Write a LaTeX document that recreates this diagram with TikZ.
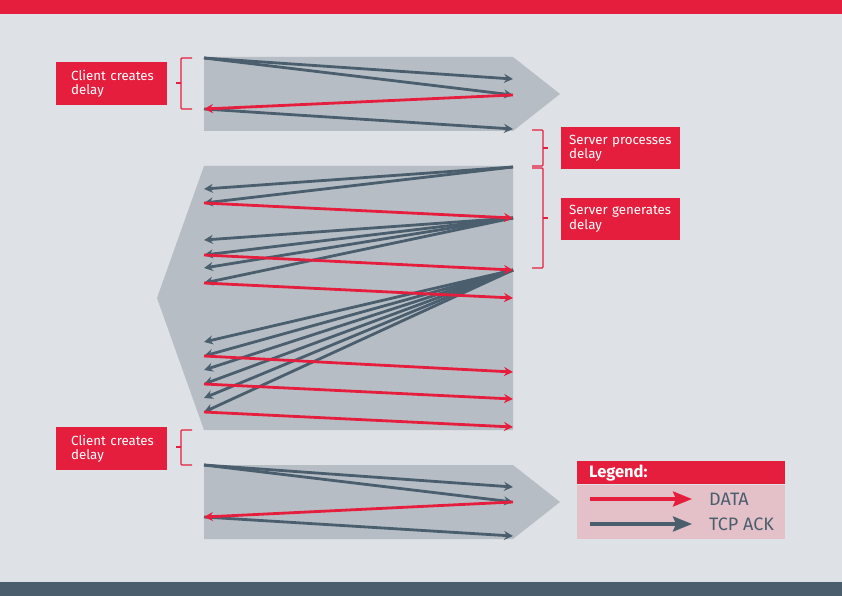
\documentclass[tikz,border=0pt]{standalone}
\usepackage{fontspec}
\setmainfont{Fira Sans}
\usetikzlibrary{arrows.meta, positioning}
\definecolor{pagegray}{RGB}{222,225,229}
\definecolor{zonegray}{RGB}{182,189,196}
\definecolor{slate}{RGB}{74,94,110}
\definecolor{alertred}{RGB}{230,30,62}
\definecolor{lightpink}{RGB}{228,193,200}
\tikzset{every node/.append style={align=left}}
\tikzset{
  tag/.style={rectangle, fill=alertred, text=white, inner xsep=15pt, inner ysep=0pt,
    text width=81pt, minimum height=43pt, font=\fontsize{13.3}{14.5}\selectfont, anchor=north west},
  stag/.style={tag, inner xsep=8pt, text width=103pt, minimum height=42pt},
  zone/.style={fill=zonegray},
  brk/.style={draw=alertred, line width=1.3pt, rounded corners=1pt},
  ackarrow/.style={-{Stealth[length=9pt, width=9pt, inset=3pt]}, line width=2.8pt, slate},
  dataarrow/.style={ackarrow, alertred},
  lghead/.style={rectangle, fill=alertred, text=white, inner xsep=12pt, inner ysep=0pt,
    text width=184pt, minimum height=23pt, font=\fontsize{16.5}{18}\selectfont\bfseries, anchor=north west},
  lgbody/.style={rectangle, fill=lightpink, minimum width=208pt, minimum height=54pt, inner sep=0pt},
  keyarrow/.style={-{Stealth[length=19pt, width=15pt, inset=3pt]}, line width=3.2pt},
  keylbl/.style={font=\fontsize{18}{20}\selectfont, text=slate, inner sep=0pt}
}
\begin{document}
\begin{tikzpicture}[x=1pt, y=-1pt]
  \fill[pagegray] (0,0) rectangle (842,596);
  \fill[alertred] (0,0) rectangle (842,14);
  \fill[slate] (0,582) rectangle (842,596);

  \fill[zone] (204,57) -- (513,57) -- (560,94) -- (513,131) -- (204,131) -- cycle;
  \fill[zone] (204,166) -- (513,166) -- (513,430) -- (204,430) -- (157,298) -- cycle;
  \fill[zone] (204,465) -- (513,465) -- (560,502) -- (513,539) -- (204,539) -- cycle;

  \node[tag] (cl1) at (56,62) {\mbox{Client creates}\\delay};
  \node[tag] (cl2) at (56,427) {\mbox{Client creates}\\delay};
  \node[stag] (sp) at (561,127) {\mbox{Server processes}\\delay};
  \node[stag, below=28pt of sp] (sg) {\mbox{Server generates}\\delay};

  \draw[brk] (192,58) -- (181,58) -- (181,109) -- (192,109);
  \draw[brk] (181,83) -- (176,83);
  \draw[brk] (192,430) -- (181,430) -- (181,465) -- (192,465);
  \draw[brk] (181,447) -- (176,447);
  \draw[brk] (532,130) -- (543,130) -- (543,166) -- (532,166);
  \draw[brk] (543,148) -- (548,148);
  \draw[brk] (532,168) -- (543,168) -- (543,268) -- (532,268);
  \draw[brk] (543,218) -- (548,218);

  \coordinate (a0) at (204,58);
  \coordinate (a1) at (513,79);
  \coordinate (a2) at (513,95);
  \coordinate (a3) at (204,109);
  \coordinate (a4) at (513,129);
  \draw[ackarrow] (a0) -- (a1);
  \draw[ackarrow] (a0) -- (a2);
  \draw[ackarrow] (a3) -- (a4);
  \draw[dataarrow] (a2) -- (a3);

  \coordinate (s1) at (513,167);
  \coordinate (s2) at (513,218);
  \coordinate (s3) at (513,270);
  \coordinate (s4) at (513,298);
  \coordinate (s5) at (513,372);
  \coordinate (s6) at (513,399);
  \coordinate (s7) at (513,427);
  \coordinate (m1) at (204,189);
  \coordinate (m2) at (204,203);
  \coordinate (m3) at (204,240);
  \coordinate (m4) at (204,255);
  \coordinate (m5) at (204,268);
  \coordinate (m6) at (204,283);
  \coordinate (n1) at (204,342);
  \coordinate (n2) at (204,356);
  \coordinate (n3) at (204,370);
  \coordinate (n4) at (204,384);
  \coordinate (n5) at (204,398);
  \coordinate (n6) at (204,412);
  \draw[ackarrow] (s1) -- (m1);
  \draw[ackarrow] (s1) -- (m2);
  \draw[ackarrow] (s2) -- (m3);
  \draw[ackarrow] (s2) -- (m4);
  \draw[ackarrow] (s2) -- (m5);
  \draw[ackarrow] (s2) -- (m6);
  \draw[ackarrow] (s3) -- (n1);
  \draw[ackarrow] (s3) -- (n2);
  \draw[ackarrow] (s3) -- (n3);
  \draw[ackarrow] (s3) -- (n4);
  \draw[ackarrow] (s3) -- (n5);
  \draw[ackarrow] (s3) -- (n6);
  \draw[dataarrow] (m2) -- (s2);
  \draw[dataarrow] (m4) -- (s3);
  \draw[dataarrow] (m6) -- (s4);
  \draw[dataarrow] (n2) -- (s5);
  \draw[dataarrow] (n4) -- (s6);
  \draw[dataarrow] (n6) -- (s7);

  \coordinate (b0) at (204,465);
  \coordinate (b1) at (513,487);
  \coordinate (b2) at (513,502);
  \coordinate (b3) at (204,517);
  \coordinate (b4) at (513,536);
  \draw[ackarrow] (b0) -- (b1);
  \draw[ackarrow] (b0) -- (b2);
  \draw[ackarrow] (b3) -- (b4);
  \draw[dataarrow] (b2) -- (b3);

  \node[lghead] (lgh) at (577,461) {Legend:};
  \node[lgbody, below=0pt of lgh] (lgb) {};
  \coordinate (d0) at (590,499);
  \coordinate (d1) at (692,499);
  \coordinate (t0) at (590,524);
  \coordinate (t1) at (692,524);
  \draw[keyarrow, alertred] (d0) -- (d1);
  \draw[keyarrow, slate] (t0) -- (t1);
  \node[keylbl, right=17pt of d1] (dl) {DATA};
  \node[keylbl, right=17pt of t1] (tl) {TCP ACK};
\end{tikzpicture}
\end{document}
